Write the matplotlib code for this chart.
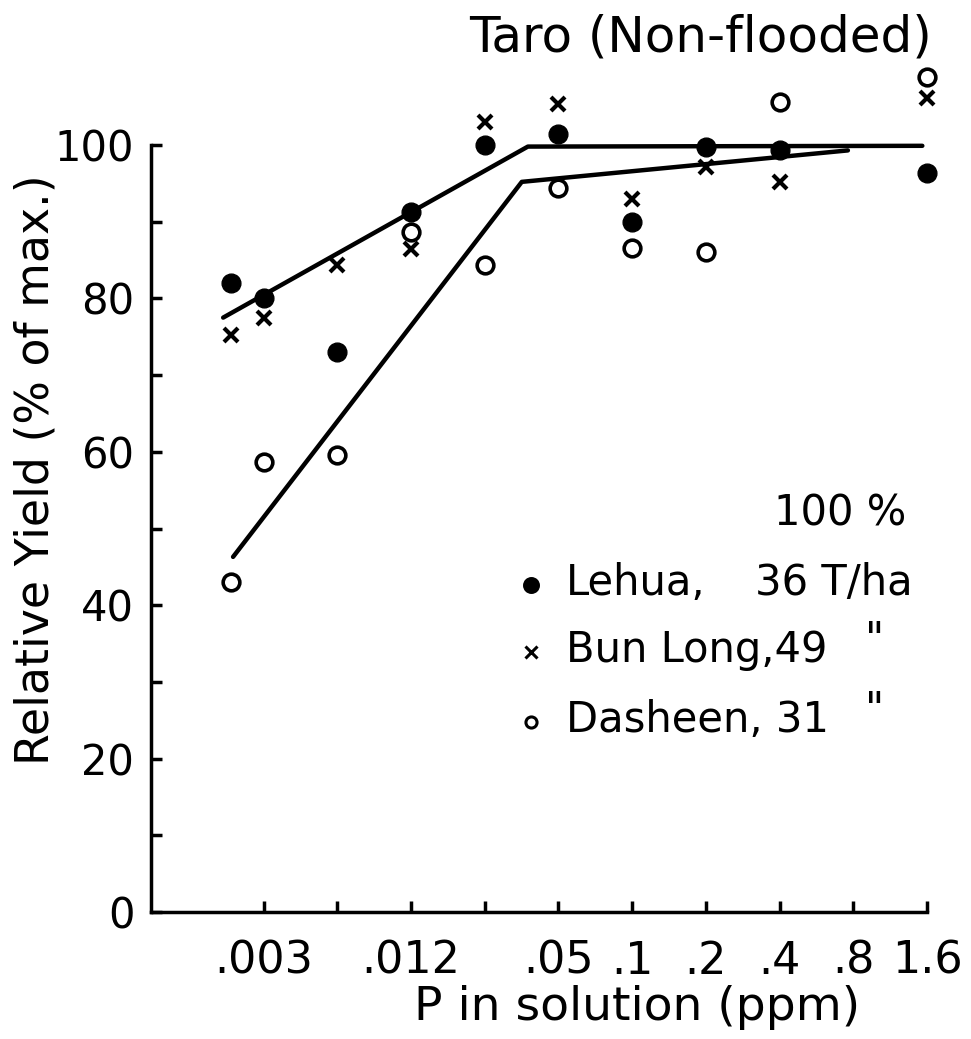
from matplotlib import pyplot as plt

# P in solution (ppm), plotted on a doubling scale
p_points = [0.0022, 0.003, 0.006, 0.012, 0.024, 0.048, 0.096, 0.192, 0.384, 1.536]

lehua = [82, 80, 73, 91.3, 100, 101.4, 90, 99.7, 99.4, 96.4]
bun_long = [75.2, 77.4, 84.4, 86.5, 103, 105.4, 93, 97.2, 95.2, 106.1]
dasheen = [43, 58.7, 59.6, 88.7, 84.4, 94.4, 86.6, 86, 105.6, 108.9]

# fitted broken lines
upper_x = [0.00205, 0.036, 1.47]
upper_y = [77.5, 99.8, 99.9]
lower_x = [0.00225, 0.034, 0.73]
lower_y = [46.3, 95.2, 99.3]

tick_vals = [0.003, 0.006, 0.012, 0.024, 0.048, 0.096, 0.192, 0.384, 0.768, 1.536]
tick_labels = ['.003', '', '.012', '', '.05', '.1', '.2', '.4', '.8', '1.6']

W, H = 971, 1039
fig = plt.figure(figsize=(W / 100, H / 100), dpi=100)

# axes box placed in pixels: left 151, right 927, bottom 912, top 30
ax = fig.add_axes([151 / W, 1 - 912 / H, (927 - 151) / W, (912 - 30) / H])

ax.set_xscale('log', base=2)
ax.set_xlim(0.00104, 1.536)
ax.set_ylim(0, 115)

ax.plot(upper_x, upper_y, color='black', lw=3.2, solid_capstyle='round')
ax.plot(lower_x, lower_y, color='black', lw=3.2, solid_capstyle='round')

ax.plot(p_points, lehua, 'o', color='black', ms=13.5, clip_on=False)
ax.plot(p_points, bun_long, 'x', color='black', ms=10, mew=3, clip_on=False)
ax.plot(p_points, dasheen, 'o', mfc='white', mec='black', ms=12, mew=2.6, clip_on=False)

for s in ['top', 'right']:
    ax.spines[s].set_visible(False)
ax.spines['left'].set_bounds(0, 100)
ax.spines['left'].set_linewidth(2.5)
ax.spines['bottom'].set_linewidth(2.5)

ax.set_xticks(tick_vals)
ax.set_xticklabels(tick_labels)
ax.xaxis.set_minor_locator(plt.NullLocator())
ax.set_yticks([0, 20, 40, 60, 80, 100])
ax.set_yticks([10, 30, 50, 70, 90], minor=True)

ax.tick_params(axis='both', which='both', direction='in', length=8, width=2.5,
               color='black')
ax.tick_params(axis='x', pad=20, labelsize=32)
ax.tick_params(axis='y', pad=12, labelsize=30)

fig.text(36 / W, 1 - 470 / H, 'Relative Yield (% of max.)', fontsize=33,
         rotation=90, ha='center', va='center')
fig.text(700 / W, 1 - 37 / H, 'Taro (Non-flooded)', fontsize=36, ha='center', va='center')
fig.text(637 / W, 1 - 1008 / H, 'P in solution (ppm)', fontsize=34, ha='center', va='center')

# hand-lettered key
fig.text(840 / W, 1 - 513 / H, '100 %', fontsize=30, ha='center', va='center')

key_rows = [
    (583, 'o', 'black', 'black', 10, 'Lehua,', '36 T/ha'),
    (650, 'x', 'black', 'black', 8, 'Bun Long,49', '"'),
    (720, 'o', 'white', 'black', 8, 'Dasheen, 31', '"'),
]
for y, m, fc, ec, ms, name, tail in key_rows:
    ax.plot([531 / W], [1 - (y + 2) / H], m, mfc=fc, mec=ec, color='black', ms=ms,
            mew=2.2, transform=fig.transFigure, clip_on=False)
    fig.text(566 / W, 1 - y / H, name, fontsize=30, ha='left', va='center')
    if tail == '"':
        fig.text(875 / W, 1 - (y - 10) / H, tail, fontsize=30, ha='center', va='center')
    else:
        fig.text(755 / W, 1 - y / H, tail, fontsize=30, ha='left', va='center')

fig.savefig('out.png', dpi=100)
